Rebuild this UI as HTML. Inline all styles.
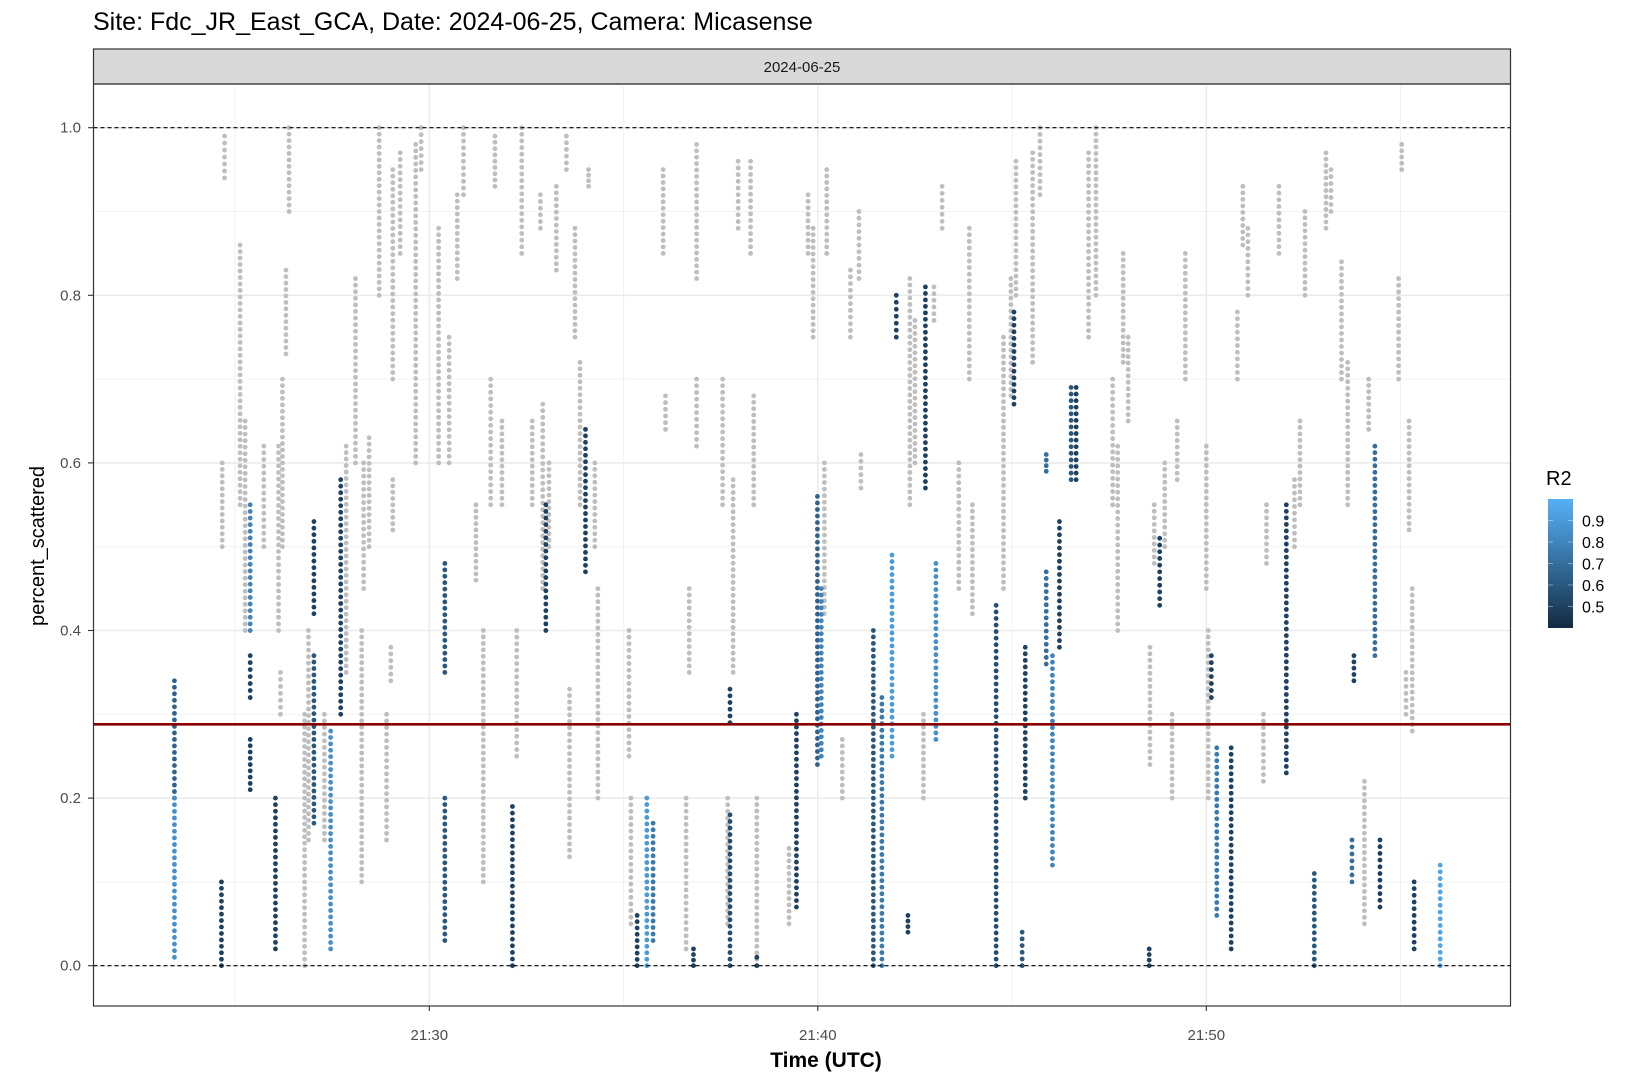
<!DOCTYPE html>
<html><head><meta charset="utf-8"><style>
html,body{margin:0;padding:0;background:#fff;}
svg{display:block;font-family:"Liberation Sans",sans-serif;}
</style></head><body>
<svg id="chart" width="1630" height="1075" viewBox="0 0 1630 1075">
<text x="93" y="30" font-size="25" fill="#000">Site: Fdc_JR_East_GCA, Date: 2024-06-25, Camera: Micasense</text>
<rect x="93.5" y="49" width="1417" height="35" fill="#d9d9d9" stroke="#333" stroke-width="1.2"/>
<text x="802" y="72" font-size="15" text-anchor="middle" fill="#1a1a1a">2024-06-25</text>
<g id="grid"></g>
<g id="pts"></g>
<g id="over"></g>
<rect x="93.5" y="84" width="1417" height="922" fill="none" stroke="#333" stroke-width="1.2"/>
<g id="axes"></g>
<text x="1057" y="1067" font-size="21" text-anchor="middle" fill="#000" font-weight="bold" transform="translate(-231,0)">Time (UTC)</text>
<text transform="translate(44,546) rotate(-90)" font-size="20" text-anchor="middle" fill="#000">percent_scattered</text>
<text x="1546" y="485" font-size="20" fill="#000">R2</text>
<defs><linearGradient id="cg" x1="0" y1="1" x2="0" y2="0"><stop offset="0" stop-color="#132B43"/><stop offset="1" stop-color="#56B1F7"/></linearGradient></defs>
<rect x="1548" y="499" width="25" height="129" fill="url(#cg)"/>
<g id="leg"></g>
</svg>
<script>
// colored strips: time (min after 21:00), top, bottom, R2
const cTimes=[23.44,23.44,24.65,25.39,25.39,25.39,26.04,27.03,27.03,27.46,27.72,30.40,30.40,32.14,33.0,34.02,35.35,35.6,35.76,36.8,37.74,37.74,38.43,39.45,39.99,40.09,41.43,41.65,41.91,42.02,42.32,42.77,43.04,44.59,45.05,45.34,45.26,45.88,45.88,46.04,46.22,46.52,46.65,48.53,48.8,50.13,50.27,50.64,52.06,52.78,53.75,53.8,54.34,54.47,55.35,56.02];
const cTop=[0.34,0.2,0.10,0.55,0.37,0.27,0.2,0.53,0.37,0.28,0.58,0.48,0.2,0.19,0.55,0.64,0.06,0.2,0.17,0.02,0.33,0.18,0.01,0.30,0.56,0.45,0.40,0.32,0.49,0.80,0.06,0.81,0.48,0.43,0.78,0.38,0.04,0.47,0.61,0.37,0.53,0.69,0.69,0.02,0.51,0.37,0.26,0.26,0.55,0.11,0.15,0.37,0.62,0.15,0.10,0.12];
const cBot=[0.2,0.01,0.0,0.40,0.32,0.21,0.02,0.42,0.17,0.02,0.3,0.35,0.03,0.0,0.40,0.47,0.0,0.0,0.03,0.0,0.29,0.0,0.0,0.07,0.24,0.25,0.0,0.0,0.25,0.75,0.04,0.57,0.27,0.0,0.67,0.20,0.0,0.36,0.59,0.12,0.38,0.58,0.58,0.0,0.43,0.32,0.06,0.02,0.23,0.0,0.10,0.34,0.37,0.07,0.02,0.0];
const cR2=[0.65,0.85,0.5,0.8,0.5,0.5,0.5,0.5,0.6,0.85,0.5,0.6,0.6,0.5,0.5,0.5,0.5,0.9,0.75,0.5,0.5,0.55,0.5,0.5,0.65,0.8,0.6,0.75,0.9,0.5,0.5,0.5,0.85,0.55,0.5,0.5,0.6,0.7,0.7,0.8,0.5,0.6,0.5,0.5,0.5,0.5,0.75,0.5,0.5,0.6,0.7,0.5,0.7,0.5,0.5,0.95];
// grey strips (low R2): time, top, bottom
const gTimes=[24.73,24.67,25.13,25.26,25.74,26.12,26.17,26.39,26.31,26.22,26.79,26.89,27.30,27.86,28.10,28.31,28.45,28.26,28.71,28.90,29.06,29.25,29.06,29.01,29.65,29.79,30.24,30.51,30.72,30.88,31.20,31.39,31.58,31.69,31.87,32.25,32.38,32.65,32.86,32.92,33.08,33.27,33.53,33.61,33.75,33.88,34.10,34.26,34.34,35.14,35.19,36.02,36.08,36.61,36.69,36.88,36.88,37.55,37.68,37.82,37.95,38.27,38.35,38.43,39.26,39.75,39.88,40.23,40.17,40.63,40.84,41.06,41.11,42.37,42.50,42.72,42.99,43.20,43.63,43.90,43.98,44.78,44.97,45.10,45.53,45.72,46.97,47.16,47.59,47.72,47.86,47.99,48.66,48.93,49.25,49.46,50.0,50.05,50.80,50.94,51.07,51.47,51.55,51.87,52.27,52.41,52.54,53.08,53.21,53.48,53.64,54.18,54.95,55.03,55.14,55.22,55.30,54.07,48.55,49.12];
const gTop=[0.99,0.60,0.86,0.65,0.62,0.62,0.35,1.0,0.83,0.70,0.30,0.40,0.30,0.62,0.82,0.60,0.63,0.40,1.0,0.30,0.95,0.97,0.58,0.38,0.98,1.0,0.88,0.75,0.92,1.0,0.55,0.40,0.70,0.99,0.65,0.40,1.0,0.65,0.92,0.67,0.60,0.93,0.99,0.33,0.88,0.72,0.95,0.60,0.45,0.40,0.20,0.95,0.68,0.20,0.45,0.98,0.70,0.70,0.20,0.58,0.96,0.96,0.68,0.20,0.14,0.92,0.88,0.95,0.60,0.27,0.83,0.90,0.61,0.82,0.77,0.30,0.81,0.93,0.60,0.88,0.55,0.75,0.82,0.96,0.97,1.0,0.97,1.0,0.70,0.62,0.85,0.75,0.55,0.60,0.65,0.85,0.62,0.40,0.78,0.93,0.88,0.30,0.55,0.93,0.58,0.65,0.90,0.97,0.95,0.84,0.72,0.70,0.82,0.98,0.35,0.65,0.45,0.22,0.38,0.30];
const gBot=[0.94,0.50,0.55,0.40,0.50,0.40,0.30,0.90,0.73,0.50,0.0,0.15,0.15,0.35,0.60,0.45,0.50,0.10,0.80,0.15,0.70,0.85,0.52,0.34,0.60,0.95,0.60,0.60,0.82,0.92,0.46,0.10,0.55,0.93,0.55,0.25,0.85,0.55,0.88,0.45,0.50,0.83,0.95,0.13,0.75,0.55,0.93,0.50,0.20,0.25,0.05,0.85,0.64,0.02,0.35,0.82,0.62,0.55,0.05,0.35,0.88,0.85,0.55,0.0,0.05,0.85,0.75,0.85,0.42,0.20,0.75,0.82,0.57,0.55,0.60,0.20,0.77,0.88,0.45,0.70,0.42,0.45,0.68,0.80,0.72,0.92,0.75,0.80,0.55,0.40,0.72,0.65,0.48,0.50,0.58,0.70,0.45,0.20,0.70,0.86,0.80,0.22,0.48,0.85,0.50,0.55,0.80,0.88,0.90,0.70,0.55,0.64,0.70,0.95,0.30,0.52,0.28,0.05,0.24,0.20];
const yTicks=[0,0.2,0.4,0.6,0.8,1.0];
const yTickLabels=["0.0","0.2","0.4","0.6","0.8","1.0"];
const xTicks=[30,40,50];
const xTickLabels=["21:30","21:40","21:50"];
const refLine=0.288;
const legTicks=[0.5,0.6,0.7,0.8,0.9];

const NS="http://www.w3.org/2000/svg";
const X=m=>429.3+(m-30)*38.85;
const Y=v=>965.7-v*838;
const L=v=>628-(v-0.40)/(1.0-0.40)*129;
function mk(tag,at,parent){const e=document.createElementNS(NS,tag);for(const k in at)e.setAttribute(k,at[k]);document.getElementById(parent).appendChild(e);return e;}
function col(r){let t=Math.max(0,Math.min(1,(r-0.40)/0.6));const a=[0x13,0x2B,0x43],b=[0x56,0xB1,0xF7];return "rgb("+a.map((c,i)=>Math.round(c+(b[i]-c)*t)).join(",")+")";}
[0.1,0.3,0.5,0.7,0.9].forEach(v=>{const e=mk("line",{x1:93.5,x2:1510.5,y1:Y(v),y2:Y(v),stroke:"#f2f2f2","stroke-width":1},"grid");

});
[25,35,45,55].forEach(m=>{const e=mk("line",{x1:X(m),x2:X(m),y1:84,y2:1006,stroke:"#f2f2f2","stroke-width":1},"grid");

});
yTicks.forEach((v,i)=>{const e=mk("line",{x1:93.5,x2:1510.5,y1:Y(v),y2:Y(v),stroke:"#ebebeb","stroke-width":1.6},"grid");


const t=mk("text",{x:81,y:Y(v)+5,"font-size":15,"text-anchor":"end",fill:"#4d4d4d"},"axes");t.textContent=yTickLabels[i];


const k=mk("line",{x1:88,x2:93.5,y1:Y(v),y2:Y(v),stroke:"#333","stroke-width":1.1},"axes");

});
xTicks.forEach((m,i)=>{const e=mk("line",{x1:X(m),x2:X(m),y1:84,y2:1006,stroke:"#ebebeb","stroke-width":1.6},"grid");


const t=mk("text",{x:X(m),y:1040,"font-size":15,"text-anchor":"middle",fill:"#4d4d4d"},"axes");t.textContent=xTickLabels[i];


const k=mk("line",{x1:X(m),x2:X(m),y1:1006,y2:1011,stroke:"#333","stroke-width":1.1},"axes");

});
function strip(t,top,bot,fill,name){const y1=Y(top),y2=Y(bot);const n=Math.max(1,Math.round((y2-y1)/6.5));
for(let j=0;j<=n;j++){const c=mk("circle",{cx:X(t),cy:y1+(y2-y1)*j/n,r:2.4,fill:fill},"pts");

}}
gTimes.forEach((t,i)=>strip(t,gTop[i],gBot[i],"#bebebe","grey-point"));
cTimes.forEach((t,i)=>strip(t,cTop[i],cBot[i],col(cR2[i]),"r2-point"));
[0,1].forEach(v=>{const e=mk("line",{x1:93.5,x2:1510.5,y1:Y(v),y2:Y(v),stroke:"#000","stroke-width":1.1,"stroke-dasharray":"4,3"},"over");

});
const r=mk("line",{x1:93.5,x2:1510.5,y1:Y(refLine),y2:Y(refLine),stroke:"#8B0000","stroke-width":2.6},"over");


legTicks.forEach(v=>{const t=mk("text",{x:1582,y:L(v)+6,"font-size":16,fill:"#000"},"leg");t.textContent=v.toFixed(1);


[1548,1568].forEach(x0=>{const k=mk("line",{x1:x0,x2:x0+5,y1:L(v),y2:L(v),stroke:"#ffffff","stroke-opacity":0.4},"leg");

});});
</script>
</body></html>
